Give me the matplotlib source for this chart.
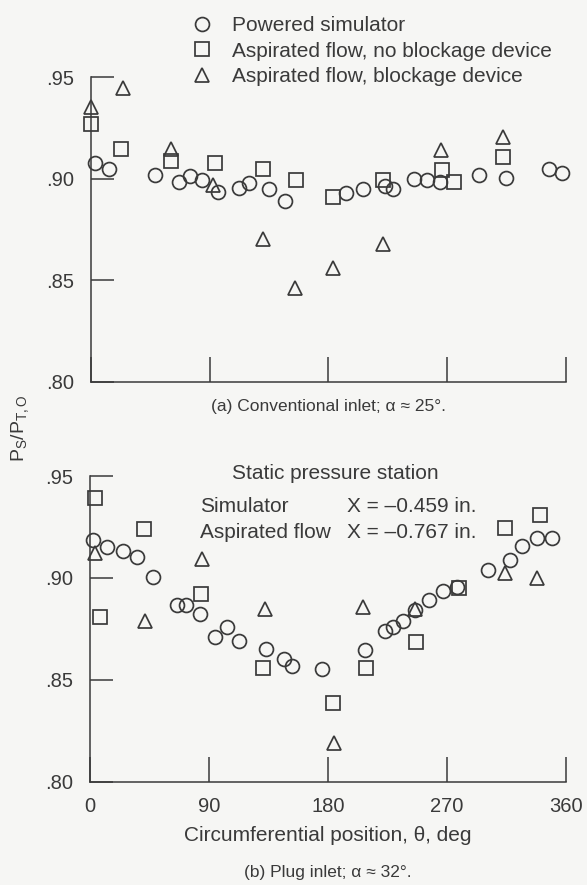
import matplotlib
matplotlib.use("Agg")
import matplotlib.pyplot as plt
from matplotlib.lines import Line2D

plt.rcParams['font.family'] = ['Liberation Sans', 'DejaVu Sans']
plt.rcParams['mathtext.fontset'] = 'custom'
plt.rcParams['mathtext.rm'] = 'Liberation Sans'
plt.rcParams['mathtext.it'] = 'Liberation Sans:italic'

INK = '#3a3a3a'
BG = '#f6f6f4'

# ---------------- data ----------------
# (a) Conventional inlet
top_sim_theta = [3, 13.6, 49, 66.6, 75, 84.4, 96.5, 112.4, 120, 134.9, 147,
                 193.3, 205.9, 222.8, 229.1, 245, 254.4, 264.5, 294.1, 314.3, 347.1, 356.7]
top_sim_ps = [0.908, 0.905, 0.902, 0.8986, 0.9014, 0.8994, 0.8936, 0.8953, 0.8977, 0.8947, 0.889,
              0.8928, 0.8949, 0.8966, 0.8948, 0.8997, 0.8994, 0.8985, 0.9018, 0.9005, 0.9046, 0.903]

top_asp_theta = [0, 22.7, 61.1, 94, 130.6, 155.4, 183.2, 221.6, 265.8, 275.1, 312]
top_asp_ps = [0.927, 0.9145, 0.9088, 0.908, 0.905, 0.8994, 0.891, 0.8994, 0.9043, 0.8985, 0.9108]

top_blk_theta = [0, 24.5, 61.1, 92.7, 130.6, 155.1, 183.2, 221.1, 265.3, 312]
top_blk_ps = [0.9355, 0.9445, 0.9145, 0.897, 0.8702, 0.8464, 0.8559, 0.8677, 0.9141, 0.9207]

# (b) Plug inlet
bot_sim_theta = [2.5, 12.6, 24.7, 35.8, 47.4, 65.6, 72.4, 83.2, 94.6, 103.9, 112.8, 132.9,
                 146.8, 152.6, 175.8, 208.1, 223.2, 229.5, 237, 246, 256.5, 266.8, 277.5,
                 301.4, 317.8, 326.7, 338, 349.4]
bot_sim_ps = [0.9188, 0.9151, 0.9132, 0.9102, 0.9006, 0.8866, 0.8866, 0.8822, 0.8712, 0.8757,
              0.8689, 0.8652, 0.8603, 0.8566, 0.8554, 0.8644, 0.8741, 0.8761, 0.879, 0.8845,
              0.889, 0.8935, 0.8955, 0.904, 0.9088, 0.9156, 0.9194, 0.9194]

bot_asp_theta = [3.8, 7.6, 40.9, 83.8, 130.7, 183.7, 208.6, 246.5, 279.5, 314, 340.5]
bot_asp_ps = [0.9394, 0.8806, 0.924, 0.8923, 0.8557, 0.8387, 0.8557, 0.8684, 0.8952, 0.9243, 0.931]

bot_blk_theta = [3.8, 41.6, 84.5, 132.4, 184.6, 206.8, 246, 314, 338]
bot_blk_ps = [0.9123, 0.879, 0.9091, 0.8847, 0.8189, 0.8855, 0.8847, 0.9024, 0.9001]

series_labels = ['Powered simulator', 'Aspirated flow, no blockage device',
                 'Aspirated flow, blockage device']
yticks = [0.80, 0.85, 0.90, 0.95]
ytick_labels = ['.80', '.85', '.90', '.95']
xticks = [0, 90, 180, 270, 360]
xtick_labels = ['0', '90', '180', '270', '360']

# ---------------- figure ----------------
FS = 15
fig = plt.figure(figsize=(5.87, 8.85), dpi=100, facecolor=BG)
ax1 = fig.add_axes([0.1545, 0.5687, 0.8097, 0.3440])
ax2 = fig.add_axes([0.1533, 0.1167, 0.8104, 0.3454])

MS = 10
MEW = 1.25
mstyle = dict(linestyle='none', markerfacecolor='none', markeredgecolor=INK,
              markeredgewidth=MEW, markersize=MS, clip_on=False)

def style_axes(ax, show_xlabels):
    ax.set_facecolor('none')
    ax.set_xlim(0, 360)
    ax.set_ylim(0.80, 0.95)
    for s in ['top', 'right']:
        ax.spines[s].set_visible(False)
    for s in ['left', 'bottom']:
        ax.spines[s].set_color(INK)
        ax.spines[s].set_linewidth(1.1)
    ax.set_yticks(yticks)
    ax.set_yticklabels(ytick_labels)
    ax.set_xticks(xticks)
    if show_xlabels:
        ax.set_xticklabels(xtick_labels)
    else:
        ax.set_xticklabels([])
    ax.tick_params(axis='y', direction='in', length=16.5, width=1.1, color=INK,
                   labelcolor=INK, labelsize=14.5, pad=12)
    ax.tick_params(axis='x', direction='in', length=18, width=1.1, color=INK,
                   labelcolor=INK, labelsize=14.5, pad=11)

style_axes(ax1, False)
style_axes(ax2, True)

ax1.plot(top_sim_theta, top_sim_ps, marker='o', **mstyle)
ax1.plot(top_asp_theta, top_asp_ps, marker='s', **mstyle)
ax1.plot(top_blk_theta, top_blk_ps, marker='^', **mstyle)

ax2.plot(bot_sim_theta, bot_sim_ps, marker='o', **mstyle)
ax2.plot(bot_asp_theta, bot_asp_ps, marker='s', **mstyle)
ax2.plot(bot_blk_theta, bot_blk_ps, marker='^', **mstyle)

ax2.set_xlabel('Circumferential position, \u03b8, deg', fontsize=FS, color=INK, labelpad=7)

# legend
handles = [Line2D([], [], marker=m, **{k: v for k, v in mstyle.items() if k != 'clip_on'})
           for m in ['o', 's', '^']]
fig.legend(handles, series_labels, loc='upper left', bbox_to_anchor=(0.3264, 0.9817),
           frameon=False, fontsize=FS, labelcolor=INK, handlelength=1.0,
           handletextpad=0.94, labelspacing=0.31, borderpad=0.0, borderaxespad=0.0)

# captions
fig.text(0.559, 1 - 407 / 885, '(a) Conventional inlet; \u03b1 \u2248 25\u00b0.', ha='center',
         va='center', fontsize=12.5, color=INK)
fig.text(0.559, 1 - 872 / 885, '(b) Plug inlet; \u03b1 \u2248 32\u00b0.', ha='center',
         va='center', fontsize=12.5, color=INK)

# y label
fig.text(20 / 587, 1 - 428 / 885, r'$\mathregular{P_S/P_{T,O}}$', rotation=90,
         ha='center', va='center', fontsize=14, color=INK)

# station annotation
ax2.text(335 / 587, 1 - 473 / 885, 'Static pressure station', transform=fig.transFigure,
         ha='center', va='center', fontsize=FS, color=INK)
ax2.text(200 / 587, 1 - 507 / 885, 'Simulator', transform=fig.transFigure,
         ha='left', va='center', fontsize=FS, color=INK)
ax2.text(347 / 587, 1 - 507 / 885, 'X = \u20130.459 in.', transform=fig.transFigure,
         ha='left', va='center', fontsize=FS, color=INK)
ax2.text(200 / 587, 1 - 533 / 885, 'Aspirated flow', transform=fig.transFigure,
         ha='left', va='center', fontsize=FS, color=INK)
ax2.text(347 / 587, 1 - 533 / 885, 'X = \u20130.767 in.', transform=fig.transFigure,
         ha='left', va='center', fontsize=FS, color=INK)

fig.savefig('out.png', dpi=100, facecolor=BG)
